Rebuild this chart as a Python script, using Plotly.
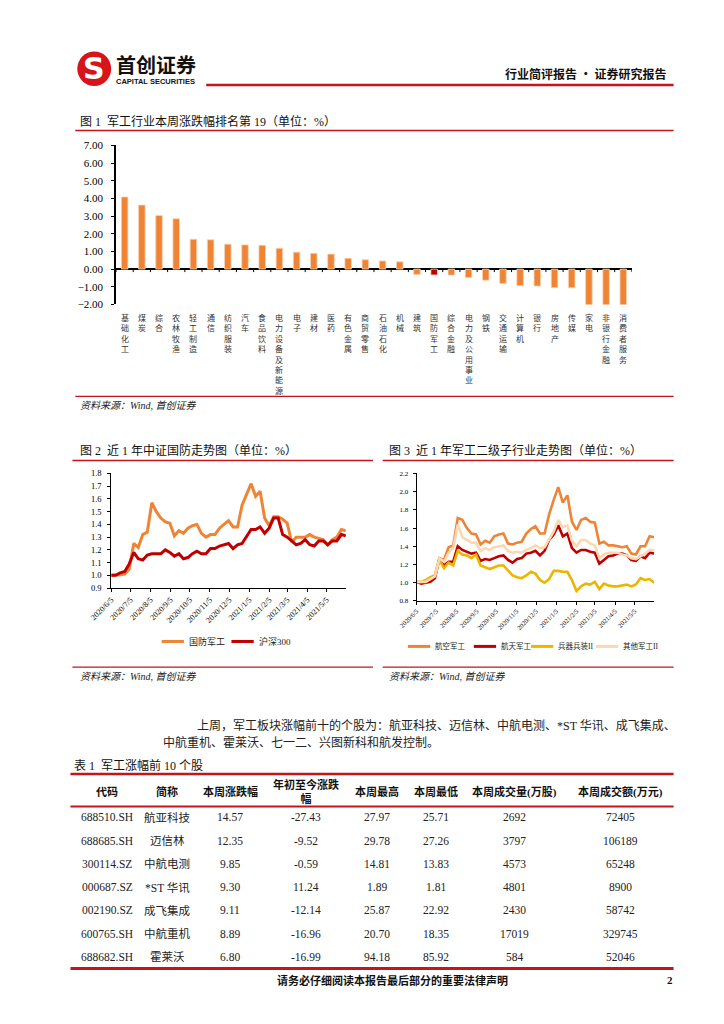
import plotly.graph_objects as go
import pandas as pd

W, H = 724, 1024


def X(p):
    return p / W


def Y(p):
    return 1 - p / H


RED_RULE = "#C3161C"
ORANGE = "#EE8434"
DARK_RED = "#C00000"
GOLD = "#EAB600"
PEACH = "#F9D8B2"
SERIF = "Liberation Serif, Noto Sans CJK SC"
CJK = "Noto Sans CJK SC"

# ---------------- Figure 1 data ----------------
industries = ["基础化工", "煤炭", "综合", "农林牧渔", "轻工制造", "通信", "纺织服装", "汽车",
              "食品饮料", "电力设备及新能源", "电子", "建材", "医药", "有色金属", "商贸零售",
              "石油石化", "机械", "建筑", "国防军工", "综合金融", "电力及公用事业", "钢铁",
              "交通运输", "计算机", "银行", "房地产", "传媒", "家电", "非银行金融", "消费者服务"]
weekly_change = [4.08, 3.62, 3.03, 2.85, 1.69, 1.66, 1.41, 1.37, 1.35, 1.18, 0.96, 0.89, 0.85,
                 0.61, 0.53, 0.46, 0.41, -0.30, -0.33, -0.34, -0.48, -0.63, -0.81, -0.94, -0.96,
                 -1.05, -1.06, -2.04, -2.05, -2.06]
highlight_industry = "国防军工"

# ---------------- Figure 2 / 3 data ----------------
week_start = "2020-06-05"
n_weeks = 53
defense_index = [1.00, 1.00, 1.005, 1.01, 1.05, 1.25, 1.22, 1.32, 1.34, 1.57, 1.50, 1.45, 1.42,
                 1.41, 1.31, 1.35, 1.33, 1.37, 1.39, 1.40, 1.33, 1.30, 1.32, 1.32, 1.37, 1.40,
                 1.43, 1.38, 1.38, 1.55, 1.63, 1.72, 1.62, 1.66, 1.45, 1.39, 1.46, 1.46, 1.44,
                 1.41, 1.26, 1.30, 1.30, 1.30, 1.32, 1.30, 1.29, 1.28, 1.24, 1.28, 1.30, 1.36, 1.35]
hs300 = [1.00, 1.00, 1.02, 1.03, 1.09, 1.18, 1.13, 1.12, 1.16, 1.17, 1.17, 1.17, 1.20, 1.18,
         1.15, 1.17, 1.13, 1.14, 1.17, 1.19, 1.17, 1.17, 1.21, 1.21, 1.23, 1.24, 1.25, 1.21,
         1.24, 1.25, 1.30, 1.36, 1.36, 1.38, 1.33, 1.37, 1.45, 1.45, 1.32, 1.30, 1.27, 1.24,
         1.25, 1.28, 1.24, 1.23, 1.27, 1.27, 1.24, 1.27, 1.27, 1.32, 1.31]
aviation = [1.01, 1.00, 1.01, 1.04, 1.08, 1.27, 1.25, 1.39, 1.41, 1.71, 1.69, 1.60, 1.54, 1.53,
            1.42, 1.46, 1.44, 1.51, 1.53, 1.54, 1.43, 1.42, 1.44, 1.45, 1.54, 1.59, 1.62, 1.54,
            1.54, 1.75, 1.91, 2.05, 1.88, 1.96, 1.67, 1.58, 1.69, 1.71, 1.67, 1.66, 1.43, 1.45,
            1.41, 1.41, 1.40, 1.39, 1.40, 1.32, 1.31, 1.40, 1.40, 1.51, 1.50]
aerospace = [1.01, 0.99, 1.00, 1.01, 1.05, 1.27, 1.19, 1.23, 1.23, 1.40, 1.36, 1.34, 1.32, 1.33,
             1.24, 1.26, 1.25, 1.27, 1.29, 1.30, 1.25, 1.22, 1.26, 1.27, 1.32, 1.33, 1.35, 1.30,
             1.35, 1.47, 1.53, 1.63, 1.51, 1.54, 1.38, 1.33, 1.36, 1.36, 1.34, 1.33, 1.21, 1.25,
             1.29, 1.30, 1.32, 1.32, 1.30, 1.25, 1.24, 1.29, 1.27, 1.33, 1.32]
weapons = [1.01, 1.01, 1.03, 1.06, 1.08, 1.25, 1.16, 1.22, 1.19, 1.35, 1.31, 1.30, 1.27, 1.31,
           1.19, 1.17, 1.15, 1.17, 1.19, 1.19, 1.14, 1.08, 1.06, 1.05, 1.08, 1.12, 1.10, 1.03,
           1.00, 1.04, 1.13, 1.13, 1.12, 1.12, 1.03, 0.91, 0.96, 0.99, 0.98, 1.01, 0.93, 0.99,
           0.97, 0.96, 0.96, 0.97, 0.98, 0.96, 0.98, 1.05, 1.03, 1.04, 1.00]
other_military = [1.01, 1.01, 1.01, 1.04, 1.07, 1.27, 1.23, 1.33, 1.38, 1.64, 1.50, 1.47, 1.44,
                  1.44, 1.35, 1.38, 1.36, 1.39, 1.40, 1.41, 1.35, 1.33, 1.34, 1.33, 1.36, 1.38,
                  1.41, 1.38, 1.39, 1.48, 1.56, 1.69, 1.61, 1.63, 1.46, 1.40, 1.47, 1.47, 1.43,
                  1.41, 1.27, 1.31, 1.33, 1.33, 1.33, 1.31, 1.30, 1.27, 1.26, 1.29, 1.32, 1.36, 1.36]
date_tick_labels = ["2020/6/5", "2020/7/5", "2020/8/5", "2020/9/5", "2020/10/5", "2020/11/5",
                    "2020/12/5", "2021/1/5", "2021/2/5", "2021/3/5", "2021/4/5", "2021/5/5"]
date_range_end = "2021-06-04"
fig2_series = ["国防军工", "沪深300"]
fig3_series = ["航空军工", "航天军工", "兵器兵装II", "其他军工II"]

# ---------------- Table data ----------------
table_headers = ["代码", "简称", "本周涨跌幅", "年初至今涨跌<br>幅", "本周最高", "本周最低",
                 "本周成交量(万股)", "本周成交额(万元)"]
stock_codes = ["688510.SH", "688685.SH", "300114.SZ", "000687.SZ", "002190.SZ", "600765.SH", "688682.SH"]
stock_names = ["航亚科技", "迈信林", "中航电测", "*ST 华讯", "成飞集成", "中航重机", "霍莱沃"]
week_change = [14.57, 12.35, 9.85, 9.30, 9.11, 8.89, 6.80]
ytd_change = [-27.43, -9.52, -0.59, 11.24, -12.14, -16.96, -16.99]
week_high = [27.97, 29.78, 14.81, 1.89, 25.87, 20.70, 94.18]
week_low = [25.71, 27.26, 13.83, 1.81, 22.92, 18.35, 85.92]
week_volume = [2692, 3797, 4573, 4801, 2430, 17019, 584]
week_amount = [72405, 106189, 65248, 8900, 58742, 329745, 52046]

dates = pd.date_range(week_start, periods=n_weeks, freq="7D")
tick_dates = pd.to_datetime(date_tick_labels, format="%Y/%m/%d")

fig = go.Figure()

# Figure 1 bars
fig.add_trace(go.Bar(
    x=industries, y=weekly_change, width=0.38,
    marker=dict(color=[DARK_RED if c == highlight_industry else ORANGE for c in industries],
                line=dict(color="#F9D2B2", width=0.8)),
    xaxis="x", yaxis="y", showlegend=False, hoverinfo="x+y"))

# Figure 2 lines
fig2_colors = [ORANGE, DARK_RED]
for name, vals, col in zip(fig2_series, [defense_index, hs300], fig2_colors):
    fig.add_trace(go.Scatter(x=dates, y=vals, mode="lines", name=name, showlegend=False,
                             line=dict(color=col, width=3), xaxis="x2", yaxis="y2"))

# Figure 3 lines
fig3_colors = [ORANGE, DARK_RED, GOLD, PEACH]
for name, vals, col in zip(fig3_series, [aviation, aerospace, weapons, other_military], fig3_colors):
    fig.add_trace(go.Scatter(x=dates, y=vals, mode="lines", name=name, showlegend=False,
                             line=dict(color=col, width=2.6), xaxis="x3", yaxis="y3"))

axis_base = dict(showgrid=False, zeroline=False, showline=True, linecolor="black", linewidth=1,
                 ticks="outside", ticklen=3, tickcolor="black", tickwidth=1, fixedrange=True)

layout = dict(
    width=W, height=H, margin=dict(l=0, r=0, t=0, b=0),
    paper_bgcolor="white", plot_bgcolor="white",
    xaxis=dict(type="category", domain=[X(97), X(629)], range=[-0.5, len(industries) - 0.5],
               showticklabels=False, showline=False, ticks="", showgrid=False, zeroline=False,
               anchor="y", fixedrange=True),
    yaxis=dict(axis_base, domain=[Y(302), Y(141)], range=[-2, 7], dtick=1, tickformat=".2f",
               linewidth=1.5, zeroline=True, zerolinecolor="black", zerolinewidth=1.5,
               ticklabelstandoff=6,
               tickfont=dict(family="Liberation Serif", size=11, color="black"), anchor="x"),
    xaxis2=dict(axis_base, type="date", domain=[X(92), X(334)], range=[week_start, date_range_end],
                tickvals=tick_dates, ticktext=date_tick_labels, tickangle=-45,
                tickfont=dict(family="Liberation Serif", size=8, color="black"), anchor="y2"),
    yaxis2=dict(axis_base, domain=[Y(589), Y(473)], range=[0.9, 1.8], dtick=0.1, tickformat=".1f",
                ticklabelstandoff=4,
                tickfont=dict(family="Liberation Serif", size=8.5, color="black"), anchor="x2"),
    xaxis3=dict(axis_base, type="date", domain=[X(407), X(652)], range=[week_start, date_range_end],
                tickvals=tick_dates, ticktext=date_tick_labels, tickangle=-45,
                tickfont=dict(family="Liberation Serif", size=6.5, color="black"), anchor="y3"),
    yaxis3=dict(axis_base, domain=[Y(602), Y(473)], range=[0.8, 2.2], dtick=0.2, tickformat=".1f",
                ticklabelstandoff=3,
                tickfont=dict(family="Liberation Serif", size=7, color="black"), anchor="x3"),
)
fig.update_layout(**layout)

shapes = []
annotations = []


def hline(y, x0, x1, width, color=RED_RULE):
    shapes.append(dict(type="line", xref="paper", yref="paper", x0=X(x0), x1=X(x1),
                       y0=Y(y), y1=Y(y), line=dict(color=color, width=width)))


def text(x, y, s, size=12, family=SERIF, color="black", xanchor="left", yanchor="middle", **kw):
    annotations.append(dict(x=X(x), y=Y(y), xref="paper", yref="paper", text=s, showarrow=False,
                            xanchor=xanchor, yanchor=yanchor,
                            font=dict(size=size, family=family, color=color), **kw))


# ---- header ----
shapes.append(dict(type="circle", xref="paper", yref="paper", x0=X(57), x1=X(92), y0=Y(81), y1=Y(46),
                   fillcolor="#D7141A", line=dict(width=0)))
text(74.5, 63.5, "<b>S</b>", size=30, family="DejaVu Sans", color="white", xanchor="center")
text(95, 59, "<b>首创证券</b>", size=20, family=CJK, color="#111")
text(95, 76, "<b>CAPITAL SECURITIES</b>", size=7.5, family="Liberation Sans", color="#111")
text(666, 68, "<b>行业简评报告 · 证券研究报告</b>", size=12, family=CJK, color="#111", xanchor="right")
hline(80, 190, 672, 2.5)

# ---- figure 1 frame ----
text(58, 117, "图 1  军工行业本周涨跌幅排名第 19（单位：%）", size=12, family=SERIF, color="#111")
hline(126, 55, 672, 1.5)
hline(395, 55, 672, 1.2)
text(58, 404, "<i>资料来源：Wind, 首创证券</i>", size=10, family=SERIF, color="#222")

# category boundary ticks on the zero line
for i in range(len(industries) + 1):
    shapes.append(dict(type="line", xref="x", yref="y", x0=i - 0.5, x1=i - 0.5, y0=0, y1=-0.17,
                       line=dict(color="black", width=1)))

# vertical (stacked) category labels
for i, lab in enumerate(industries):
    annotations.append(dict(x=i, xref="x", y=Y(308), yref="paper", text="<br>".join(lab),
                            showarrow=False, xanchor="center", yanchor="top", align="center",
                            font=dict(size=8, family=CJK, color="#333")))

# ---- figure 2 / 3 frames ----
text(58, 450, "图 2  近 1 年中证国防走势图（单位：%）", size=12, family=SERIF, color="#111")
hline(460, 52, 362, 1.5)
hline(669, 52, 362, 1.2)
text(58, 678, "<i>资料来源：Wind, 首创证券</i>", size=10, family=SERIF, color="#222")

text(376, 450, "图 3  近 1 年军工二级子行业走势图（单位：%）", size=12, family=SERIF, color="#111")
hline(460, 372, 672, 1.5)
hline(669, 372, 672, 1.2)
text(376, 678, "<i>资料来源：Wind, 首创证券</i>", size=10, family=SERIF, color="#222")

# ---- legends (drawn as line samples + labels) ----
fig2_legend_x = [144, 216]
for name, col, lx in zip(fig2_series, fig2_colors, fig2_legend_x):
    shapes.append(dict(type="line", xref="paper", yref="paper", x0=X(lx), x1=X(lx + 23),
                       y0=Y(643), y1=Y(643), line=dict(color=col, width=3)))
    text(lx + 26, 643, name, size=9, family=SERIF, color="#222")

fig3_legend_x = [398, 466, 525, 592]
for name, col, lx in zip(fig3_series, fig3_colors, fig3_legend_x):
    shapes.append(dict(type="line", xref="paper", yref="paper", x0=X(lx), x1=X(lx + 23),
                       y0=Y(648), y1=Y(648), line=dict(color=col, width=3)))
    text(lx + 26, 648, name, size=7.5, family=SERIF, color="#222")

# ---- paragraph ----
text(178, 728, "上周，军工板块涨幅前十的个股为：航亚科技、迈信林、中航电测、*ST 华讯、成飞集成、",
     size=12, family=SERIF, color="#222")
text(143, 745, "中航重机、霍莱沃、七一二、兴图新科和航发控制。", size=12, family=SERIF, color="#222")

# ---- table ----
text(52, 768, "表 1  军工涨幅前 10 个股", size=12, family=SERIF, color="#111")
hline(777, 50, 672, 2.5)
hline(810, 50, 672, 2)
hline(974, 50, 672, 3)
col_x = [88, 150, 215, 293, 366, 427, 508, 617]
for cx, h in zip(col_x, table_headers):
    text(cx, 795, "<b>" + h + "</b>", size=11, family=SERIF, color="#111", xanchor="center")

rows = zip(stock_codes, stock_names, week_change, ytd_change, week_high, week_low,
           week_volume, week_amount)
for r, (c, n, wc, yc, hi, lo, vo, am) in enumerate(rows):
    y = 821 + 23.5 * r
    cells = [c, n, f"{wc:.2f}", f"{yc:.2f}", f"{hi:.2f}", f"{lo:.2f}", f"{vo}", f"{am}"]
    for cx, s in zip(col_x, cells):
        text(cx, y, s, size=11.5, family=SERIF, color="#222", xanchor="center")

# ---- footer ----
text(382, 986, "<b>请务必仔细阅读本报告最后部分的重要法律声明</b>", size=11, family=SERIF,
     color="#111", xanchor="center")
text(668, 986, "<b>2</b>", size=11, family=SERIF, color="#111", xanchor="center")

fig.update_layout(shapes=shapes, annotations=annotations)
fig.write_html("out.html", config={"displayModeBar": False},
               post_script="document.body.style.margin='0';")
